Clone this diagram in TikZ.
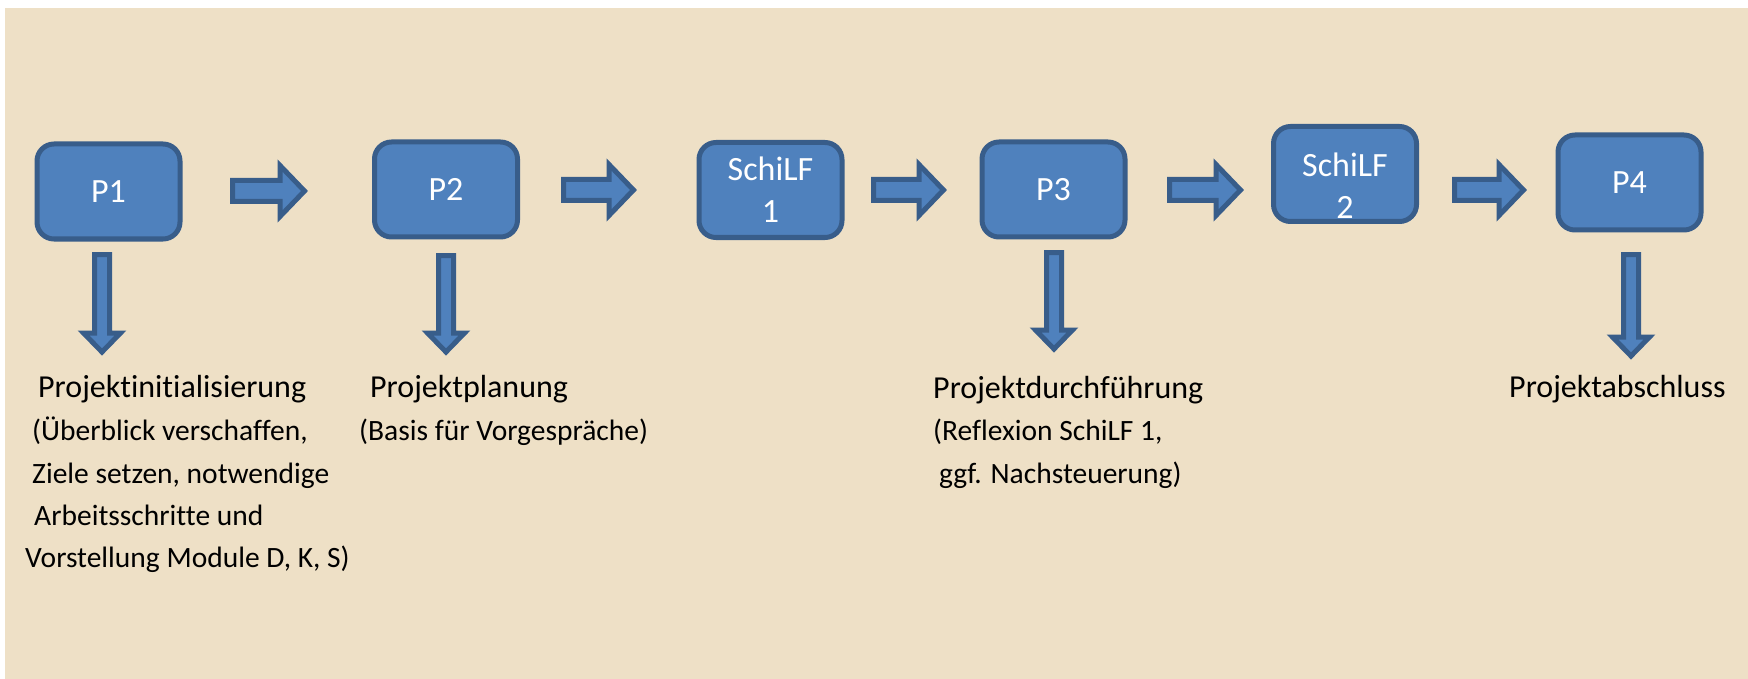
\documentclass[tikz,border=0pt]{standalone}
\usepackage{fontspec}
\setmainfont[Ligatures={NoCommon}]{Carlito}
\definecolor{bg}{HTML}{EEE0C6}
\definecolor{boxfill}{HTML}{4F81BD}
\definecolor{boxline}{HTML}{385D8A}
\tikzset{
  phase/.style={draw=boxline, fill=boxfill, line width=5pt, rounded corners=17pt,
    minimum width=143pt, minimum height=95pt, inner sep=0pt},
  phasetext/.style={text=white, font=\fontsize{34}{42}\selectfont, align=center, inner sep=0pt},
  title/.style={font=\fontsize{32}{43}\selectfont, inner sep=0pt, anchor=base west},
  body/.style={font=\fontsize{29.5}{43}\selectfont, inner sep=0pt, anchor=base west},
  blockarrow/.style={draw=boxline, fill=boxfill, line width=5pt, line join=miter}
}
\newcommand{\RightArrow}[3]{% x1, x2(tip), yc
  \draw[blockarrow] (#1+2.5,#3-10.5) -- (#2-28,#3-10.5) -- (#2-28,#3-25.5) -- (#2-3.5,#3)
    -- (#2-28,#3+25.5) -- (#2-28,#3+10.5) -- (#1+2.5,#3+10.5) -- cycle;}
\newcommand{\DownArrow}[3]{% xc, ytop, ytip
  \draw[blockarrow] (#1-7.5,#2+2.5) -- (#1+7.5,#2+2.5) -- (#1+7.5,#3-22) -- (#1+18.5,#3-22)
    -- (#1,#3-3) -- (#1-18.5,#3-22) -- (#1-7.5,#3-22) -- cycle;}
\begin{document}
\begin{tikzpicture}[x=1pt,y=-1pt]
\useasboundingbox (0,0) rectangle (1748,679);
\fill[bg] (5,8) rectangle (1748,679);
% boxes
\node[phase] (p1) at (108.5,191.5) {};
\node[phase] (p2) at (446,189.5) {};
\node[phase] (s1) at (770.5,190) {};
\node[phase] (p3) at (1053.5,189.5) {};
\node[phase] (s2) at (1345,174) {};
\node[phase] (p4) at (1629.5,182.5) {};
% box texts
\node[phasetext] (t1) at (108.5,191.5) {P1};
\node[phasetext] (t2) at (446,189.5) {P2};
\node[phasetext] (ts1) at (770.5,190) {SchiLF\\1};
\node[phasetext] (t3) at (1053.5,189.5) {P3};
\node[phasetext] (ts2) at (1345,186) {SchiLF\\2};
\node[phasetext] (t4) at (1629.5,182.5) {P4};
% horizontal arrows
\RightArrow{230}{308}{191}
\RightArrow{561}{637}{190}
\RightArrow{871}{947}{190}
\RightArrow{1167}{1244}{190}
\RightArrow{1452}{1527}{190}
% down arrows
\DownArrow{102}{252}{355}
\DownArrow{446}{253}{355}
\DownArrow{1054}{250}{352}
\DownArrow{1631}{252}{359}
% texts
\node[title] (a1) at (38,397) {Projektinitialisierung};
\node[body] (a2) at (32,440) {(Überblick verschaffen,};
\node[body] (a3) at (32,483) {Ziele setzen, notwendige};
\node[body] (a4) at (34,525) {Arbeitsschritte und};
\node[body] (a5) at (25,567) {Vorstellung Module D, K, S)};
\node[title] (b1) at (370,397) {Projektplanung};
\node[body] (b2) at (359,440) {(Basis für Vorgespräche)};
\node[title] (c1) at (933,398) {Projektdurchführung};
\node[body] (c2) at (933,440) {(Reflexion SchiLF 1,};
\node[body] (c3) at (939,483) {ggf. Nachsteuerung)};
\node[title] (d1) at (1509,397) {Projektabschluss};
\end{tikzpicture}
\end{document}
